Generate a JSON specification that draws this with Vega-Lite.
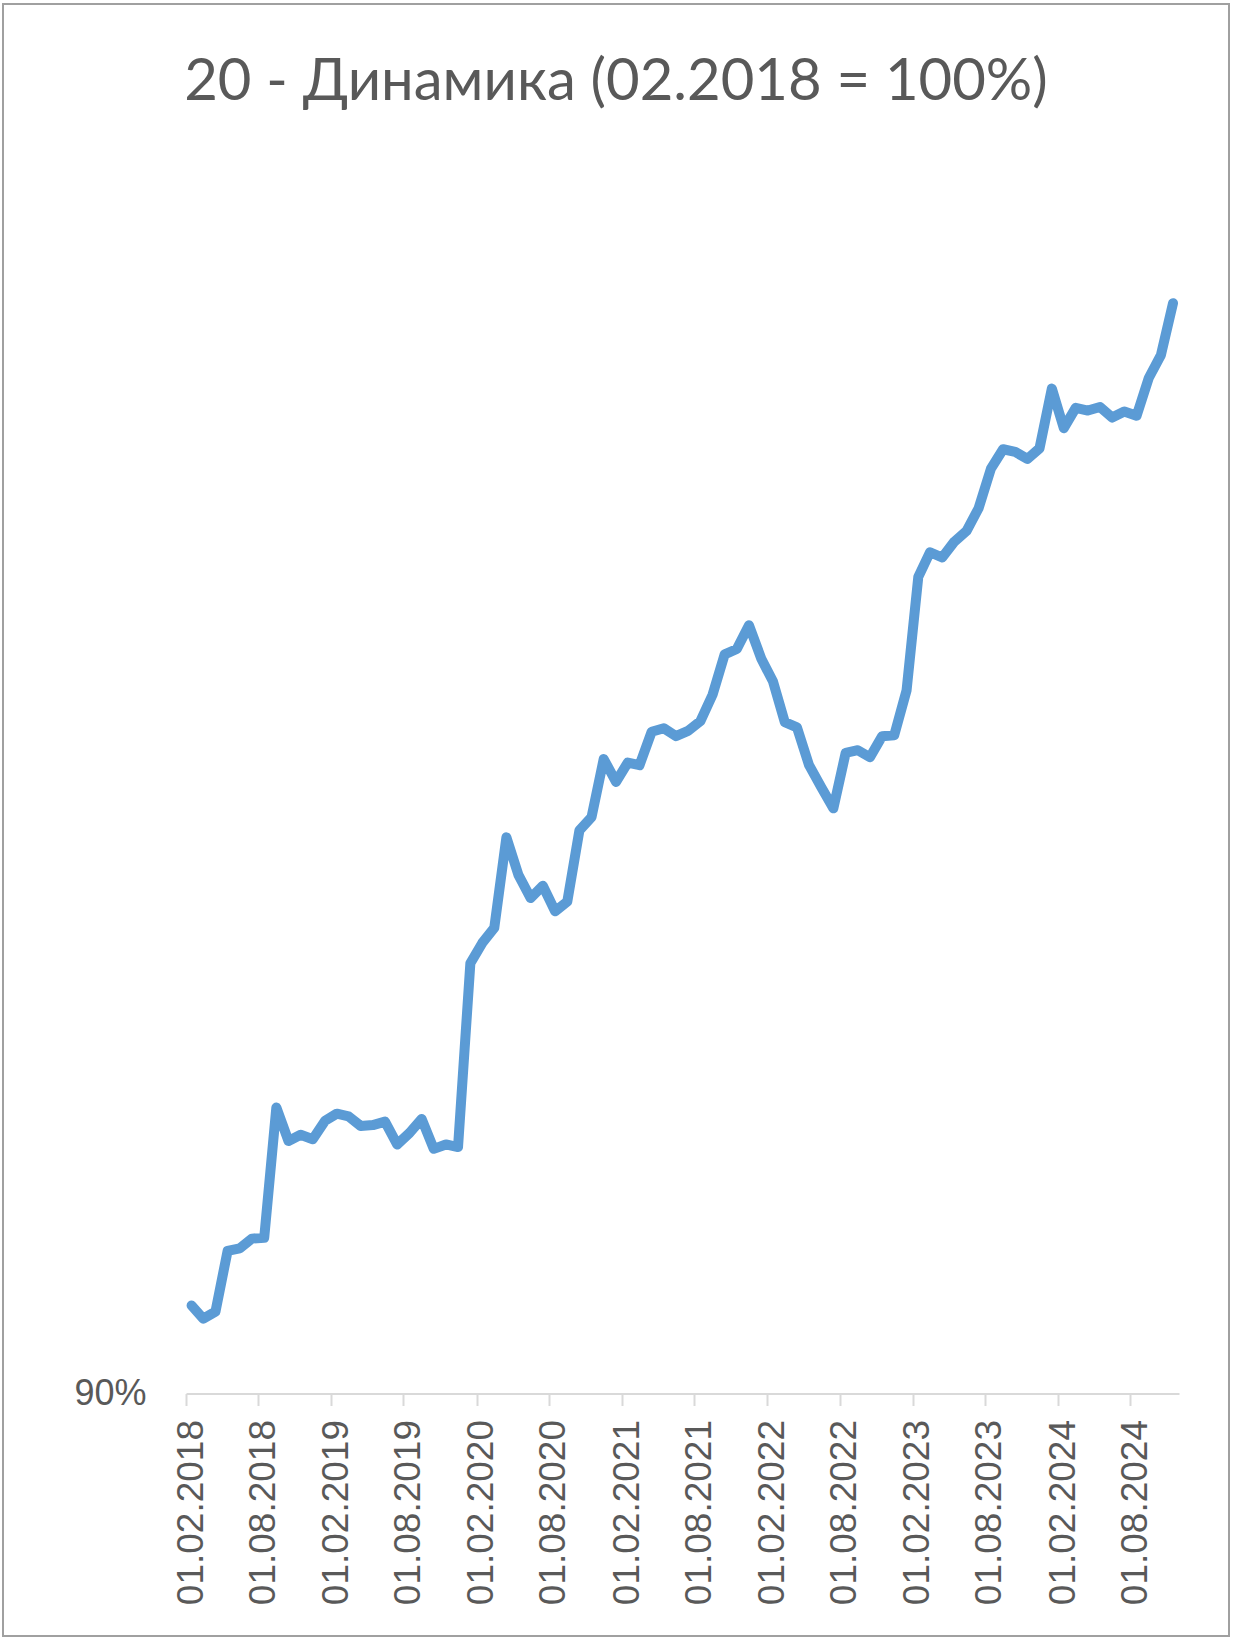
{
  "$schema": "https://vega.github.io/schema/vega-lite/v6.json",
  "autosize": {"type": "none"},
  "padding": {"left": 3, "top": 4, "right": 8, "bottom": 9},
  "width": 1226,
  "height": 1632,
  "background": "#ffffff",
  "config": {
    "view": {"stroke": "#a0a0a0", "strokeWidth": 2},
    "font": "Liberation Sans"
  },
  "title": {
    "text": "20 - Динамика (02.2018 = 100%)",
    "font": "Lato",
    "fontSize": 58,
    "fontWeight": "normal",
    "color": "#595959",
    "anchor": "middle",
    "offset": -108
  },
  "data": {
    "values": [
      {"date": "2018-02-01", "value": 1.000},
      {"date": "2018-03-01", "value": 0.985},
      {"date": "2018-04-01", "value": 0.993},
      {"date": "2018-05-01", "value": 1.062},
      {"date": "2018-06-01", "value": 1.065},
      {"date": "2018-07-01", "value": 1.076},
      {"date": "2018-08-01", "value": 1.077},
      {"date": "2018-09-01", "value": 1.225},
      {"date": "2018-10-01", "value": 1.187},
      {"date": "2018-11-01", "value": 1.194},
      {"date": "2018-12-01", "value": 1.189},
      {"date": "2019-01-01", "value": 1.210},
      {"date": "2019-02-01", "value": 1.218},
      {"date": "2019-03-01", "value": 1.215},
      {"date": "2019-04-01", "value": 1.204},
      {"date": "2019-05-01", "value": 1.205},
      {"date": "2019-06-01", "value": 1.209},
      {"date": "2019-07-01", "value": 1.183},
      {"date": "2019-08-01", "value": 1.196},
      {"date": "2019-09-01", "value": 1.212},
      {"date": "2019-10-01", "value": 1.178},
      {"date": "2019-11-01", "value": 1.183},
      {"date": "2019-12-01", "value": 1.180},
      {"date": "2020-01-01", "value": 1.389},
      {"date": "2020-02-01", "value": 1.412},
      {"date": "2020-03-01", "value": 1.429},
      {"date": "2020-04-01", "value": 1.532},
      {"date": "2020-05-01", "value": 1.489},
      {"date": "2020-06-01", "value": 1.463},
      {"date": "2020-07-01", "value": 1.477},
      {"date": "2020-08-01", "value": 1.448},
      {"date": "2020-09-01", "value": 1.459},
      {"date": "2020-10-01", "value": 1.540},
      {"date": "2020-11-01", "value": 1.555},
      {"date": "2020-12-01", "value": 1.621},
      {"date": "2021-01-01", "value": 1.595},
      {"date": "2021-02-01", "value": 1.617},
      {"date": "2021-03-01", "value": 1.614},
      {"date": "2021-04-01", "value": 1.652},
      {"date": "2021-05-01", "value": 1.656},
      {"date": "2021-06-01", "value": 1.647},
      {"date": "2021-07-01", "value": 1.653},
      {"date": "2021-08-01", "value": 1.664},
      {"date": "2021-09-01", "value": 1.694},
      {"date": "2021-10-01", "value": 1.740},
      {"date": "2021-11-01", "value": 1.746},
      {"date": "2021-12-01", "value": 1.773},
      {"date": "2022-01-01", "value": 1.735},
      {"date": "2022-02-01", "value": 1.709},
      {"date": "2022-03-01", "value": 1.663},
      {"date": "2022-04-01", "value": 1.657},
      {"date": "2022-05-01", "value": 1.614},
      {"date": "2022-06-01", "value": 1.589},
      {"date": "2022-07-01", "value": 1.565},
      {"date": "2022-08-01", "value": 1.628},
      {"date": "2022-09-01", "value": 1.631},
      {"date": "2022-10-01", "value": 1.623},
      {"date": "2022-11-01", "value": 1.647},
      {"date": "2022-12-01", "value": 1.648},
      {"date": "2023-01-01", "value": 1.699},
      {"date": "2023-02-01", "value": 1.828},
      {"date": "2023-03-01", "value": 1.856},
      {"date": "2023-04-01", "value": 1.850},
      {"date": "2023-05-01", "value": 1.868},
      {"date": "2023-06-01", "value": 1.880},
      {"date": "2023-07-01", "value": 1.906},
      {"date": "2023-08-01", "value": 1.951},
      {"date": "2023-09-01", "value": 1.973},
      {"date": "2023-10-01", "value": 1.970},
      {"date": "2023-11-01", "value": 1.962},
      {"date": "2023-12-01", "value": 1.974},
      {"date": "2024-01-01", "value": 2.042},
      {"date": "2024-02-01", "value": 1.997},
      {"date": "2024-03-01", "value": 2.020},
      {"date": "2024-04-01", "value": 2.017},
      {"date": "2024-05-01", "value": 2.021},
      {"date": "2024-06-01", "value": 2.009},
      {"date": "2024-07-01", "value": 2.016},
      {"date": "2024-08-01", "value": 2.011},
      {"date": "2024-09-01", "value": 2.054},
      {"date": "2024-10-01", "value": 2.080},
      {"date": "2024-11-01", "value": 2.139}
    ]
  },
  "mark": {
    "type": "line",
    "color": "#5b9bd5",
    "strokeWidth": 10,
    "strokeCap": "round",
    "strokeJoin": "round"
  },
  "encoding": {
    "x": {
      "field": "date",
      "type": "temporal",
      "timeUnit": "utcyearmonth",
      "bandPosition": 0.5,
      "scale": {
        "type": "utc",
        "domain": [
          {"year": 2018, "month": 2, "date": 1, "utc": true},
          {"year": 2024, "month": 12, "date": 1, "utc": true}
        ],
        "range": [183, 1176],
        "nice": false
      },
      "axis": {
        "title": null,
        "orient": "bottom",
        "offset": -242.5,
        "values": [
          {"year": 2018, "month": 2, "date": 1, "utc": true},
          {"year": 2018, "month": 8, "date": 1, "utc": true},
          {"year": 2019, "month": 2, "date": 1, "utc": true},
          {"year": 2019, "month": 8, "date": 1, "utc": true},
          {"year": 2020, "month": 2, "date": 1, "utc": true},
          {"year": 2020, "month": 8, "date": 1, "utc": true},
          {"year": 2021, "month": 2, "date": 1, "utc": true},
          {"year": 2021, "month": 8, "date": 1, "utc": true},
          {"year": 2022, "month": 2, "date": 1, "utc": true},
          {"year": 2022, "month": 8, "date": 1, "utc": true},
          {"year": 2023, "month": 2, "date": 1, "utc": true},
          {"year": 2023, "month": 8, "date": 1, "utc": true},
          {"year": 2024, "month": 2, "date": 1, "utc": true},
          {"year": 2024, "month": 8, "date": 1, "utc": true}
        ],
        "labelExpr": "utcFormat(datum.value, '%d.%m.%Y')",
        "labelAngle": -90,
        "labelAlign": "right",
        "labelBaseline": "middle",
        "labelFont": "Liberation Sans",
        "labelFontSize": 37,
        "labelColor": "#595959",
        "labelPadding": 14,
        "labelOffset": 5,
        "labelLimit": 0,
        "labelOverlap": false,
        "labelBound": false,
        "labelFlush": false,
        "domainColor": "#d9d9d9",
        "domainWidth": 2,
        "tickColor": "#d9d9d9",
        "tickWidth": 2,
        "tickSize": 12,
        "grid": false
      }
    },
    "y": {
      "field": "value",
      "type": "quantitative",
      "scale": {
        "domain": [0.9, 2.3],
        "range": [1389.5, 157.5],
        "nice": false,
        "zero": false
      },
      "axis": {
        "title": null,
        "orient": "left",
        "offset": -183,
        "values": [0.9],
        "format": ".0%",
        "domain": false,
        "ticks": false,
        "grid": false,
        "labelFont": "Liberation Sans",
        "labelFontSize": 36,
        "labelColor": "#595959",
        "labelPadding": 40,
        "labelBaseline": "middle"
      }
    }
  }
}
